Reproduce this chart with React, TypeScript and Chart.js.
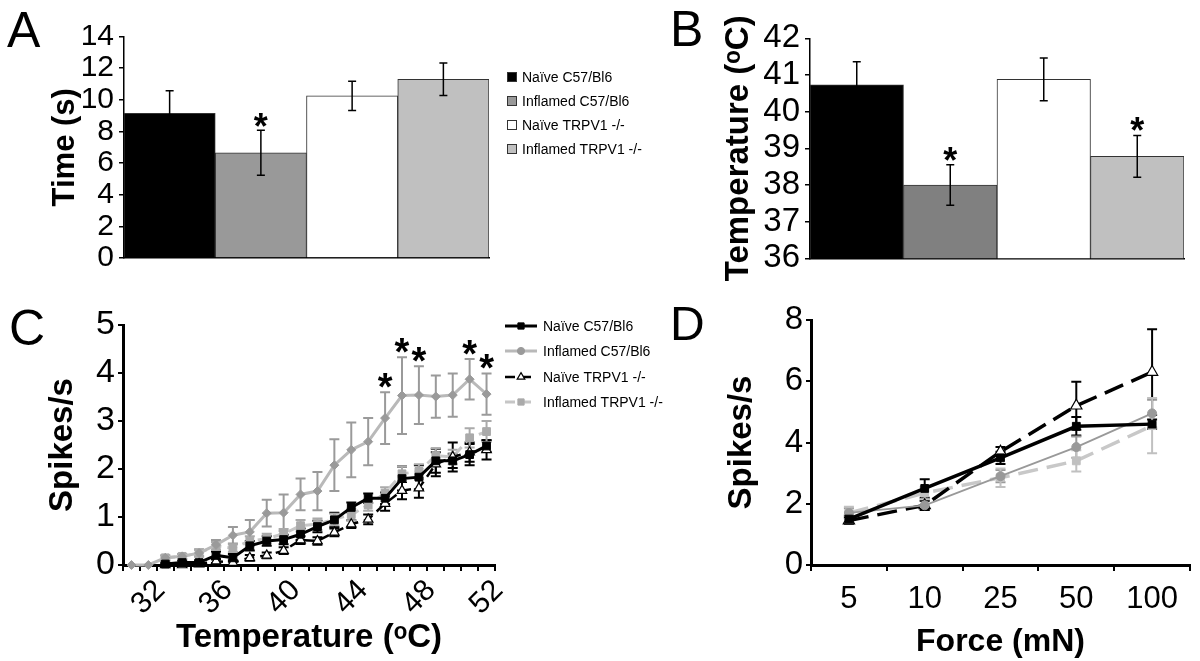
import React, { useEffect, useRef } from 'react';
import { Chart, registerables } from 'chart.js';

Chart.register(...registerables);

const FONT = "'Liberation Sans', Arial, Helvetica, sans-serif";
Chart.defaults.font.family = FONT;
Chart.defaults.color = '#000';

// ---------------- data ----------------
const groups = ['Naïve C57/Bl6', 'Inflamed C57/Bl6', 'Naïve TRPV1 -/-', 'Inflamed TRPV1 -/-'];

// Panel A: withdrawal latency (s)
const withdrawalTime = [9.15, 6.65, 10.25, 11.3];
const withdrawalTimeErr = [1.42, 1.42, 0.92, 1.03];
const withdrawalSig = [false, true, false, false];
const timeTicks = [0, 2, 4, 6, 8, 10, 12, 14];

// Panel B: heat threshold (ºC)
const thresholdTemp = [40.73, 38.0, 40.88, 38.78];
const thresholdTempErr = [0.63, 0.55, 0.58, 0.57];
const thresholdSig = [false, true, false, true];
const tempTicks = [36, 37, 38, 39, 40, 41, 42];

// Panel C: spikes/s vs temperature
const heatLabels = ['31', '32', '33', '34', '35', '36', '37', '38', '39', '40', '41', '42', '43', '44', '45', '46', '47', '48', '49', '50', '51', '52'];
const heatTickLabels = ['32', '36', '40', '44', '48', '52'];
const heatNaiveC57 = [null, null, 0.02, 0.05, 0.05, 0.2, 0.15, 0.4, 0.5, 0.53, 0.64, 0.8, 0.94, 1.2, 1.39, 1.39, 1.8, 1.83, 2.17, 2.17, 2.3, 2.48];
const heatNaiveC57Err = [null, null, 0.03, 0.04, 0.05, 0.08, 0.08, 0.1, 0.1, 0.1, 0.12, 0.12, 0.15, 0.1, 0.1, 0.12, 0.25, 0.25, 0.25, 0.15, 0.22, 0.12];
const heatInflamedC57 = [0, 0, 0.15, 0.18, 0.25, 0.42, 0.62, 0.69, 1.08, 1.09, 1.47, 1.54, 2.08, 2.4, 2.57, 3.06, 3.53, 3.54, 3.51, 3.54, 3.87, 3.56];
const heatInflamedC57Err = [0, 0, 0.05, 0.05, 0.08, 0.1, 0.17, 0.25, 0.28, 0.38, 0.33, 0.4, 0.54, 0.57, 0.49, 0.54, 0.8, 0.6, 0.44, 0.45, 0.42, 0.43];
const heatNaiveTRPV1 = [null, null, 0, 0, 0.02, 0.08, 0.05, 0.15, 0.2, 0.3, 0.52, 0.5, 0.68, 0.85, 0.95, 1.28, 1.55, 1.6, 2.1, 2.25, 2.35, 2.4];
const heatNaiveTRPV1Err = [null, null, 0.02, 0.02, 0.03, 0.04, 0.05, 0.06, 0.06, 0.07, 0.08, 0.08, 0.08, 0.08, 0.1, 0.15, 0.18, 0.2, 0.25, 0.3, 0.2, 0.2];
const heatInflamedTRPV1 = [null, null, 0.15, 0.18, 0.25, 0.4, 0.35, 0.5, 0.55, 0.65, 0.82, 0.85, 0.95, 1.05, 1.25, 1.5, 1.9, 1.95, 2.28, 2.25, 2.65, 2.78];
const heatInflamedTRPV1Err = [null, null, 0.05, 0.05, 0.06, 0.08, 0.08, 0.1, 0.1, 0.1, 0.12, 0.12, 0.12, 0.12, 0.12, 0.12, 0.15, 0.15, 0.15, 0.15, 0.2, 0.22];
const heatSigLabels = ['46', '47', '48', '51', '52'];
const spikeTicksC = [0, 1, 2, 3, 4, 5];

// Panel D: spikes/s vs force
const forceLabels = ['5', '10', '25', '50', '100'];
const forceNaiveC57 = [1.5, 2.5, 3.5, 4.53, 4.6];
const forceNaiveC57Err = [0.12, 0.3, 0.2, 0.3, 0.15];
const forceInflamedC57 = [1.7, 1.95, 2.9, 3.85, 4.95];
const forceInflamedC57Err = [0.15, 0.15, 0.2, 0.35, 0.45];
const forceNaiveTRPV1 = [1.45, 1.95, 3.7, 5.2, 6.3];
const forceNaiveTRPV1Err = [0.1, 0.15, 0.15, 0.78, 1.4];
const forceInflamedTRPV1 = [1.7, 2.35, 2.85, 3.4, 4.55];
const forceInflamedTRPV1Err = [0.2, 0.2, 0.3, 0.35, 0.9];
const spikeTicksD = [0, 2, 4, 6, 8];

const DEG = 'ᵒ';

// ---------------- helpers ----------------
function drawMarker(ctx: CanvasRenderingContext2D, style: string, x: number, y: number, r: number, fill: string, stroke: string, lw: number) {
  ctx.save();
  ctx.fillStyle = fill;
  ctx.strokeStyle = stroke;
  ctx.lineWidth = lw;
  ctx.setLineDash([]);
  ctx.beginPath();
  if (style === 'rect') {
    const s = r * Math.SQRT1_2;
    ctx.rect(x - s, y - s, 2 * s, 2 * s);
  } else if (style === 'rectRot') {
    ctx.moveTo(x, y - r); ctx.lineTo(x + r, y); ctx.lineTo(x, y + r); ctx.lineTo(x - r, y); ctx.closePath();
  } else if (style === 'triangle') {
    ctx.moveTo(x, y - r); ctx.lineTo(x + r * 0.866, y + r / 2); ctx.lineTo(x - r * 0.866, y + r / 2); ctx.closePath();
  } else {
    ctx.arc(x, y, r, 0, Math.PI * 2);
  }
  ctx.fill();
  if (lw > 0) ctx.stroke();
  ctx.restore();
}

function drawStar(ctx: CanvasRenderingContext2D, x: number, yc: number, size: number) {
  ctx.save();
  ctx.font = `bold ${size}px ${FONT}`;
  ctx.fillStyle = '#000';
  ctx.textAlign = 'center';
  ctx.textBaseline = 'alphabetic';
  const m = ctx.measureText('*');
  const base = yc + (m.actualBoundingBoxAscent - m.actualBoundingBoxDescent) / 2;
  ctx.fillText('*', x, base);
  ctx.restore();
}

function errorBarsPlugin(id: string, errs: (number | null)[][], colors: string[], cap: number, width: number, phase: 'before' | 'after') {
  const draw = (chart: any) => {
    const ctx = chart.ctx as CanvasRenderingContext2D;
    const ys = chart.scales.y;
    chart.data.datasets.forEach((ds: any, di: number) => {
      const e = errs[di];
      if (!e) return;
      const meta = chart.getDatasetMeta(di);
      meta.data.forEach((el: any, i: number) => {
        const v = ds.data[i];
        const err = e[i];
        if (v == null || err == null || err === 0) return;
        const x = el.x;
        const yt = ys.getPixelForValue(v + err);
        const yb = ys.getPixelForValue(v - err);
        ctx.save();
        ctx.strokeStyle = colors[di];
        ctx.lineWidth = width;
        ctx.setLineDash([]);
        ctx.beginPath();
        ctx.moveTo(x, yt); ctx.lineTo(x, yb);
        ctx.moveTo(x - cap, yt); ctx.lineTo(x + cap, yt);
        ctx.moveTo(x - cap, yb); ctx.lineTo(x + cap, yb);
        ctx.stroke();
        ctx.restore();
      });
    });
  };
  return phase === 'before' ? { id, beforeDatasetsDraw: draw } : { id, afterDatasetsDraw: draw };
}

function starsPlugin(id: string, marks: { ds: number; idx: number }[], errs: (number | null)[][], size: number, gap: number) {
  return {
    id,
    afterDatasetsDraw(chart: any) {
      const ys = chart.scales.y;
      for (const m of marks) {
        const v = chart.data.datasets[m.ds].data[m.idx];
        const e = errs[m.ds][m.idx] ?? 0;
        const el = chart.getDatasetMeta(m.ds).data[m.idx];
        drawStar(chart.ctx, el.x, ys.getPixelForValue(v + e) - gap, size);
      }
    },
  };
}

function letterPlugin(id: string, text: string, x: number, baseline: number, size: number) {
  return {
    id,
    afterDraw(chart: any) {
      const ctx = chart.ctx as CanvasRenderingContext2D;
      ctx.save();
      ctx.font = `${size}px ${FONT}`;
      ctx.fillStyle = '#000';
      ctx.textAlign = 'left';
      ctx.textBaseline = 'alphabetic';
      ctx.fillText(text, x, baseline);
      ctx.restore();
    },
  };
}

function boxLegendPlugin(id: string, names: string[], colors: string[], x: number, rows: number[], box: number, fontSize: number) {
  return {
    id,
    afterDraw(chart: any) {
      const ctx = chart.ctx as CanvasRenderingContext2D;
      ctx.save();
      names.forEach((n, i) => {
        const y = rows[i];
        ctx.fillStyle = colors[i];
        ctx.fillRect(x, y - box / 2, box, box);
        ctx.strokeStyle = '#333';
        ctx.lineWidth = 1;
        ctx.strokeRect(x + 0.5, y - box / 2 + 0.5, box - 1, box - 1);
        ctx.fillStyle = '#000';
        ctx.font = `${fontSize}px ${FONT}`;
        ctx.textAlign = 'left';
        ctx.textBaseline = 'middle';
        ctx.fillText(n, x + box + 5, y + 1);
      });
      ctx.restore();
    },
  };
}

function lineLegendPlugin(id: string, names: string[], markers: string[], x0: number, x1: number, tx: number, rows: number[], fontSize: number) {
  return {
    id,
    afterDraw(chart: any) {
      const ctx = chart.ctx as CanvasRenderingContext2D;
      names.forEach((n, i) => {
        const ds = chart.data.datasets[i];
        const y = rows[i];
        ctx.save();
        ctx.strokeStyle = ds.borderColor;
        ctx.lineWidth = ds.borderWidth;
        ctx.setLineDash(ds.borderDash || []);
        ctx.beginPath();
        ctx.moveTo(x0, y); ctx.lineTo(x1, y);
        ctx.stroke();
        ctx.restore();
        drawMarker(ctx, markers[i], (x0 + x1) / 2, y, ds.pointRadius * 0.8, ds.pointBackgroundColor, ds.pointBorderColor, ds.pointBorderWidth);
        ctx.save();
        ctx.fillStyle = '#000';
        ctx.font = `${fontSize}px ${FONT}`;
        ctx.textAlign = 'left';
        ctx.textBaseline = 'middle';
        ctx.fillText(n, tx, y + 1);
        ctx.restore();
      });
    },
  };
}

// ---------------- configs ----------------
function barConfig(p: {
  W: number; H: number; left: number; right: number; top: number; bottom: number;
  values: number[]; errs: number[]; sig: boolean[]; colors: string[]; min: number; max: number; ticks: number[];
  tickFont: number; title: string; titleFont: number; titleX: number; starGap: number; extra: any[];
}) {
  const marks = p.sig.map((s, i) => (s ? { ds: 0, idx: i } : null)).filter(Boolean) as { ds: number; idx: number }[];
  return {
    type: 'bar',
    data: {
      labels: groups,
      datasets: [{
        data: p.values, backgroundColor: p.colors, borderColor: '#333', borderWidth: 1,
        barPercentage: 1, categoryPercentage: 1,
      }],
    },
    options: {
      animation: false, responsive: false, devicePixelRatio: 1,
      layout: { padding: { left: 0, top: p.top, right: p.W - p.right, bottom: 0 } },
      plugins: { legend: { display: false }, tooltip: { enabled: false } },
      scales: {
        x: {
          grid: { display: false }, ticks: { display: false },
          border: { display: true, color: '#000', width: 1.5 },
          afterFit: (s: any) => { s.height = p.H - p.bottom; },
        },
        y: {
          min: p.min, max: p.max,
          afterBuildTicks: (s: any) => { s.ticks = p.ticks.map((v) => ({ value: v })); },
          ticks: { font: { size: p.tickFont }, color: '#000', padding: 5, autoSkip: false },
          grid: { drawOnChartArea: false, drawTicks: true, tickLength: 5, color: '#000', lineWidth: 1.5 },
          border: { display: true, color: '#000', width: 1.5 },
          title: {
            display: true, text: p.title, color: '#000', font: { size: p.titleFont, weight: 'bold' },
            padding: { top: p.titleX - p.titleFont * 0.6, bottom: 0 },
          },
          afterFit: (s: any) => { s.width = p.left; },
        },
      },
    },
    plugins: [
      errorBarsPlugin('eb', [p.errs], ['#000'], 4, 1.5, 'after'),
      starsPlugin('st', marks, [p.errs], 36, p.starGap),
      ...p.extra,
    ],
  };
}

function configA() {
  return barConfig({
    W: 660, H: 290, left: 124, right: 489, top: 36.5, bottom: 258,
    values: withdrawalTime, errs: withdrawalTimeErr, sig: withdrawalSig,
    colors: ['#000000', '#999999', '#ffffff', '#c0c0c0'], min: 0, max: 14, ticks: timeTicks,
    tickFont: 30, title: 'Time (s)', titleFont: 31, titleX: 65, starGap: 10,
    extra: [
      boxLegendPlugin('lg', groups, ['#000000', '#999999', '#ffffff', '#c0c0c0'], 507, [77, 101, 125, 149], 10, 14),
      letterPlugin('lt', 'A', 7, 47, 50),
    ],
  });
}

function configB() {
  return barConfig({
    W: 600, H: 290, left: 210, right: 584, top: 38.3, bottom: 258.3,
    values: thresholdTemp, errs: thresholdTempErr, sig: thresholdSig,
    colors: ['#000000', '#808080', '#ffffff', '#c0c0c0'], min: 36, max: 42, ticks: tempTicks,
    tickFont: 33, title: `Temperature (${DEG}C)`, titleFont: 33, titleX: 139, starGap: 11,
    extra: [letterPlugin('lt', 'B', 70, 46, 50)],
  });
}

function lineConfig(p: {
  W: number; H: number; left: number; right: number; top: number; bottom: number;
  labels: string[]; datasets: any[]; errs: (number | null)[][]; errColors: string[];
  min: number; max: number; ticks: number[]; yTickFont: number;
  yTitle: string; yTitleFont: number; yTitleX: number; xTitle: string; xTitleFont: number; xTitleY: number;
  axisWidth: number; xTicks: any; extra: any[];
}) {
  return {
    type: 'line',
    data: { labels: p.labels, datasets: p.datasets },
    options: {
      animation: false, responsive: false, devicePixelRatio: 1,
      layout: { padding: { left: 0, top: p.top, right: p.W - p.right, bottom: 0 } },
      plugins: { legend: { display: false }, tooltip: { enabled: false } },
      scales: {
        x: {
          type: 'category', offset: true,
          grid: { offset: true, drawOnChartArea: false, drawTicks: true, tickLength: 6, color: '#000', lineWidth: 2 },
          border: { display: true, color: '#000', width: p.axisWidth },
          ticks: p.xTicks,
          title: {
            display: true, text: p.xTitle, color: '#000', font: { size: p.xTitleFont, weight: 'bold' },
            padding: { top: 0, bottom: Math.max(0, p.H - p.xTitleY - p.xTitleFont * 0.6) },
          },
          afterFit: (s: any) => { s.height = p.H - p.bottom; },
        },
        y: {
          min: p.min, max: p.max,
          afterBuildTicks: (s: any) => { s.ticks = p.ticks.map((v) => ({ value: v })); },
          ticks: { font: { size: p.yTickFont }, color: '#000', padding: 3, autoSkip: false },
          grid: { drawOnChartArea: false, drawTicks: true, tickLength: 5, color: '#000', lineWidth: 2 },
          border: { display: true, color: '#000', width: p.axisWidth },
          title: {
            display: true, text: p.yTitle, color: '#000', font: { size: p.yTitleFont, weight: 'bold' },
            padding: { top: p.yTitleX - p.yTitleFont * 0.6, bottom: 0 },
          },
          afterFit: (s: any) => { s.width = p.left; },
        },
      },
    },
    plugins: [errorBarsPlugin('eb', p.errs, p.errColors, 5, 2, 'before'), ...p.extra],
  };
}

function configC() {
  const datasets = [
    { label: groups[0], data: heatNaiveC57, borderColor: '#000000', borderWidth: 3, pointStyle: 'rect', pointRadius: 5.5, pointBackgroundColor: '#000000', pointBorderColor: '#000000', pointBorderWidth: 1, tension: 0, clip: false },
    { label: groups[1], data: heatInflamedC57, borderColor: '#b9b9b9', borderWidth: 3, pointStyle: 'rectRot', pointRadius: 4.5, pointBackgroundColor: '#9a9a9a', pointBorderColor: '#9a9a9a', pointBorderWidth: 1, tension: 0, clip: false },
    { label: groups[2], data: heatNaiveTRPV1, borderColor: '#000000', borderWidth: 2.5, borderDash: [10, 6], pointStyle: 'triangle', pointRadius: 5.5, pointBackgroundColor: '#ffffff', pointBorderColor: '#000000', pointBorderWidth: 1.2, tension: 0, clip: false },
    { label: groups[3], data: heatInflamedTRPV1, borderColor: '#c6c6c6', borderWidth: 3, borderDash: [10, 6], pointStyle: 'rect', pointRadius: 5.5, pointBackgroundColor: '#aaaaaa', pointBorderColor: '#aaaaaa', pointBorderWidth: 1, tension: 0, clip: false },
  ];
  const errs = [heatNaiveC57Err, heatInflamedC57Err, heatNaiveTRPV1Err, heatInflamedTRPV1Err];
  const marks = heatSigLabels.map((l) => ({ ds: 1, idx: heatLabels.indexOf(l) }));
  return lineConfig({
    W: 700, H: 371, left: 123, right: 495, top: 35, bottom: 275,
    labels: heatLabels, datasets, errs, errColors: ['#000000', '#9a9a9a', '#000000', '#aaaaaa'],
    min: 0, max: 5, ticks: spikeTicksC, yTickFont: 34,
    yTitle: 'Spikes/s', yTitleFont: 33, yTitleX: 63, xTitle: `Temperature (${DEG}C)`, xTitleFont: 33, xTitleY: 348,
    axisWidth: 3,
    xTicks: {
      autoSkip: false, maxRotation: 45, minRotation: 45, font: { size: 30 }, color: '#000', padding: 2, labelOffset: 12,
      callback: (_v: any, i: number) => (heatTickLabels.includes(heatLabels[i]) ? heatLabels[i] : ''),
    },
    extra: [
      starsPlugin('st', marks, errs, 38, 12),
      lineLegendPlugin('lg', groups, ['rect', 'circle', 'triangle', 'rect'], 505, 537, 543, [36, 61, 87, 112], 14),
      letterPlugin('lt', 'C', 9, 55, 50),
    ],
  });
}

function configD() {
  const datasets = [
    { label: groups[0], data: forceNaiveC57, borderColor: '#000000', borderWidth: 3.5, pointStyle: 'rect', pointRadius: 5.5, pointBackgroundColor: '#000000', pointBorderColor: '#000000', pointBorderWidth: 1, tension: 0, clip: false },
    { label: groups[1], data: forceInflamedC57, borderColor: '#999999', borderWidth: 1.8, pointStyle: 'circle', pointRadius: 4.5, pointBackgroundColor: '#999999', pointBorderColor: '#999999', pointBorderWidth: 1, tension: 0, clip: false },
    { label: groups[2], data: forceNaiveTRPV1, borderColor: '#000000', borderWidth: 3.5, borderDash: [20, 9], pointStyle: 'triangle', pointRadius: 6.5, pointBackgroundColor: '#ffffff', pointBorderColor: '#000000', pointBorderWidth: 1.2, tension: 0, clip: false },
    { label: groups[3], data: forceInflamedTRPV1, borderColor: '#c8c8c8', borderWidth: 3.5, borderDash: [20, 9], pointStyle: 'rect', pointRadius: 5.5, pointBackgroundColor: '#c0c0c0', pointBorderColor: '#c0c0c0', pointBorderWidth: 1, tension: 0, clip: false },
  ];
  const errs = [forceNaiveC57Err, forceInflamedC57Err, forceNaiveTRPV1Err, forceInflamedTRPV1Err];
  return lineConfig({
    W: 600, H: 371, left: 211, right: 590, top: 30, bottom: 275,
    labels: forceLabels, datasets, errs, errColors: ['#000000', '#999999', '#000000', '#c0c0c0'],
    min: 0, max: 8, ticks: spikeTicksD, yTickFont: 33,
    yTitle: 'Spikes/s', yTitleFont: 33, yTitleX: 142, xTitle: 'Force (mN)', xTitleFont: 32, xTitleY: 353,
    axisWidth: 3,
    xTicks: { autoSkip: false, maxRotation: 0, minRotation: 0, font: { size: 31 }, color: '#000', padding: 10 },
    extra: [letterPlugin('lt', 'D', 70, 50, 48)],
  });
}

// ---------------- components ----------------
function Panel({ make, left, top, width, height }: { make: () => any; left: number; top: number; width: number; height: number }) {
  const ref = useRef<HTMLCanvasElement | null>(null);
  useEffect(() => {
    if (!ref.current) return;
    const chart = new Chart(ref.current, make());
    return () => chart.destroy();
  }, []);
  return (
    <canvas
      ref={ref}
      width={width}
      height={height}
      style={{ position: 'absolute', left, top, width, height }}
    />
  );
}

export default function App() {
  return (
    <div style={{ position: 'absolute', left: 0, top: 0, width: 1200, height: 661, background: '#ffffff', overflow: 'hidden' }}>
      <Panel make={configA} left={0} top={0} width={660} height={290} />
      <Panel make={configB} left={600} top={0} width={600} height={290} />
      <Panel make={configC} left={0} top={290} width={700} height={371} />
      <Panel make={configD} left={600} top={290} width={600} height={371} />
    </div>
  );
}
